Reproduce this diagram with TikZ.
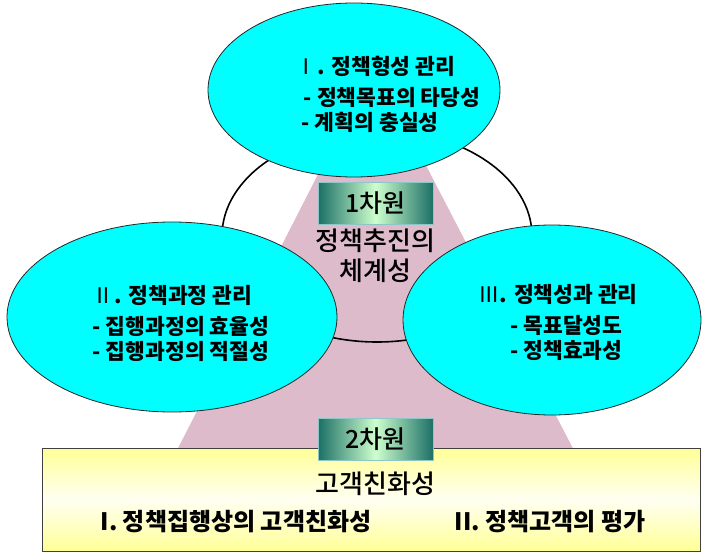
\documentclass[tikz,border=0pt]{standalone}
\usepackage{fontspec}
\setmainfont{Noto Sans CJK KR}
\newfontfamily\krmedium{Noto Sans CJK KR Medium}
\usetikzlibrary{positioning, shapes.geometric}
\definecolor{ovalcyan}{RGB}{0,255,255}
\definecolor{bandpink}{RGB}{221,187,203}
\definecolor{tealdark}{RGB}{28,112,102}
\definecolor{mintpale}{RGB}{206,255,206}
\definecolor{panelyellow}{RGB}{255,255,150}
\definecolor{panelcream}{RGB}{255,255,242}

\begin{document}
\begin{tikzpicture}[
        x=1pt, y=-1pt,
        oval/.style={ellipse, draw=black!85, line width=0.8pt, fill=ovalcyan, inner sep=0pt},
        ring/.style={ellipse, draw=black, line width=1.6pt, inner sep=0pt},
        ovaltext/.style={align=left, inner sep=0pt, font=\bfseries\fontsize{21.5}{25}\selectfont},
        dimbox/.style={draw=teal!45, line width=0.6pt, left color=tealdark, right color=tealdark, middle color=mintpale,
            minimum width=115pt, minimum height=42pt, inner sep=0pt, font=\krmedium\fontsize{25}{28}\selectfont},
        panel/.style={draw=black!75, line width=0.8pt, top color=panelyellow, bottom color=panelyellow, middle color=panelcream,
            minimum width=658pt, minimum height=103pt, inner sep=0pt},
        bigtext/.style={align=center, font=\krmedium\fontsize{26}{30}\selectfont},
        rowtext/.style={font=\bfseries\fontsize{24}{26}\selectfont},
    ]
        \useasboundingbox (0,0) rectangle (703,553);

        % Pink band behind everything
        \fill[bandpink] (356,100) -- (392,100) -- (579,460) -- (172,460) -- cycle;
        \node[ring, minimum width=310pt, minimum height=212pt] (cycle) at (377,236) {};

        % Three management ovals
        \node[oval, minimum width=292pt, minimum height=174pt] (form) at (354,90) {};
        \node[oval, minimum width=330pt, minimum height=190pt] (proc) at (172,317) {};
        \node[oval, minimum width=298pt, minimum height=190pt] (perf) at (552,320) {};

        \node[ovaltext] (formtxt) at ([xshift=34pt, yshift=-4pt]form.center)
            {{\mdseries Ⅰ}. 정책형성 관리\\[6pt] \hspace*{8pt}- 정책목표의 타당성\\ \hspace*{6pt}- 계획의 충실성};
        \node[ovaltext] (proctxt) at ([xshift=9pt, yshift=-6pt]proc.center)
            {{\mdseries Ⅱ}. 정책과정 관리\\[6pt] - 집행과정의 효율성\\ - 집행과정의 적절성};
        \node[ovaltext] (perftxt) at ([xshift=6pt, yshift=-2pt]perf.center)
            {{\mdseries Ⅲ}. 정책성과 관리\\[6pt] \hspace*{32pt}- 목표달성도\\ \hspace*{32pt}- 정책효과성};

        % First dimension
        \node[dimbox] (dim1) at (375.5,203.5) {1차원};
        \node[bigtext, below=1pt of dim1] (system) {정책추진의\\체계성};

        % Second dimension panel
        \node[panel] (client) at (371,499.5) {};
        \node[dimbox] (dim2) at (375.5,439) {2차원};
        \node[bigtext, below=8pt of dim2] (clienttitle) {고객친화성};
        \node[rowtext] (clientone) at (236,522) {I. 정책집행상의 고객친화성};
        \node[rowtext] (clienttwo) at (550,522) {II. 정책고객의 평가};
    \end{tikzpicture}
\end{document}
